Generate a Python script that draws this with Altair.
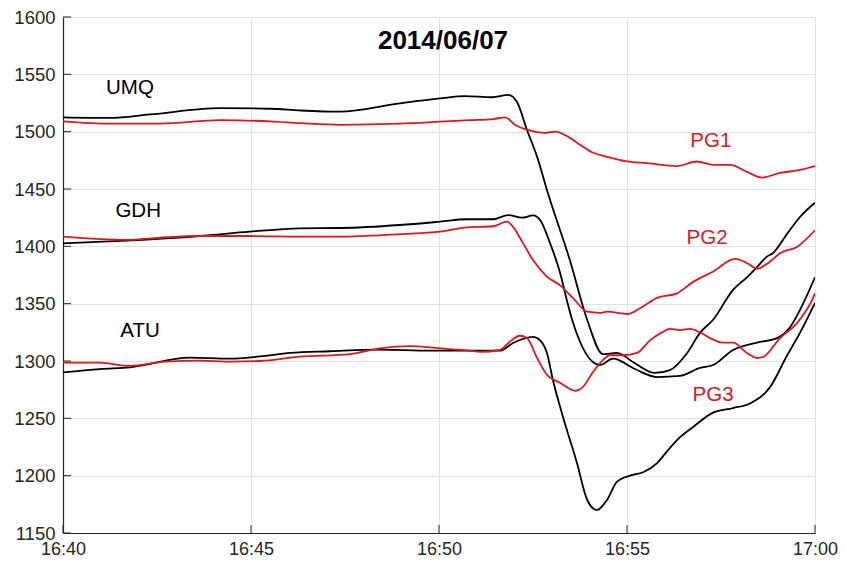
import altair as alt
import pandas as pd

# ---- data (minutes after 16:40, value) ----
x_tick_values = [0, 5, 10, 15, 20]
x_tick_labels = ["16:40", "16:45", "16:50", "16:55", "17:00"]
y_tick_values = [1150, 1200, 1250, 1300, 1350, 1400, 1450, 1500, 1550, 1600]
title_text = "2014/06/07"

umq_t = [0, 1.25, 2.31, 4.18, 5.51, 6.30, 7.37, 8.96, 10.03, 10.69, 11.41, 11.84, 12.07, 12.34, 12.61,
         12.90, 13.48, 13.94, 14.36, 14.73, 15.21, 15.74, 16.14, 16.60, 16.94, 17.29, 17.82, 18.19,
         18.46, 18.72, 18.88, 19.26, 19.60, 20.0]
umq_v = [1512.5, 1512, 1515, 1520.6, 1520, 1518.5, 1517.4, 1524.7, 1529, 1531, 1530, 1532, 1526, 1501.5, 1478,
         1446, 1388, 1336, 1306, 1307, 1298, 1289.6, 1292, 1307, 1324.5, 1336, 1362, 1373,
         1382, 1391, 1394, 1411, 1425.6, 1438]

gdh_t = [0, 1.70, 3.64, 4.97, 6.30, 7.37, 8.96, 10.03, 10.74, 11.44, 11.84, 12.21, 12.50, 12.69, 12.95,
         13.22, 13.40, 13.54, 14.28, 14.63, 15.21, 15.80, 16.41, 16.94, 17.29, 17.82, 18.54, 18.99,
         19.34, 19.60, 20.0]
gdh_v = [1402.6, 1405, 1409, 1412.8, 1415.7, 1416, 1418.6, 1421.5, 1423.6, 1423.6, 1427.3, 1425, 1427, 1423, 1403,
         1377, 1353, 1336, 1296.5, 1302, 1293, 1286, 1287, 1294, 1296.5, 1309.6, 1316.6, 1320,
         1329.7, 1344.5, 1373]

atu_t = [0, 0.98, 1.78, 3.38, 4.44, 5.24, 6.04, 7.10, 8.43, 9.76, 11.09, 11.62, 11.97, 12.50, 12.69, 12.87,
         13.03, 13.30, 13.67, 13.94, 14.20, 14.47, 14.73, 15.08, 15.43, 15.80, 16.06, 16.33, 16.76,
         17.29, 17.82, 18.27, 18.80, 19.26, 19.60, 20.0]
atu_v = [1290, 1293, 1294.5, 1303, 1302, 1304, 1307, 1308.5, 1310, 1309, 1309, 1309, 1315.7, 1321, 1318, 1307,
         1283.5, 1251, 1211, 1179, 1170, 1179, 1194.5, 1200, 1203, 1211, 1221, 1231, 1242.5,
         1255, 1259, 1263, 1277, 1305, 1324.5, 1350.6]

pg1_t = [0, 1.25, 2.58, 4.18, 5.51, 6.30, 7.37, 8.96, 10.03, 10.82, 11.44, 11.76, 12.02, 12.42, 12.82, 13.09,
         13.48, 13.75, 14.07, 14.47, 15.0, 15.53, 16.33, 16.86, 17.29, 17.74, 18.19, 18.59, 19.07,
         19.60, 20.0]
pg1_v = [1509, 1507, 1507, 1510, 1509, 1507.5, 1506, 1507, 1508.7, 1510, 1511, 1512.5, 1506, 1501, 1499, 1500,
         1494.6, 1488.6, 1482, 1478, 1474, 1472.5, 1470, 1474, 1471, 1471, 1465, 1460, 1464,
         1466.6, 1470]

pg2_t = [0, 1.70, 2.58, 3.64, 4.97, 6.30, 7.37, 8.96, 10.03, 10.74, 11.44, 11.81, 11.97, 12.23, 12.50, 12.87,
         13.22, 13.56, 13.94, 14.28, 14.47, 15.03, 15.35, 15.80, 16.33, 16.76, 17.29, 17.87, 18.19,
         18.46, 18.80, 19.07, 19.52, 20.0]
pg2_v = [1408.5, 1405.6, 1407.5, 1409, 1409, 1408.5, 1408.5, 1410.7, 1412.8, 1416.6, 1417.5, 1421.5, 1417, 1403, 1388, 1373.6,
         1366, 1355, 1343, 1342, 1343, 1341, 1346, 1355, 1359, 1369, 1378, 1389, 1385.5,
         1380.5, 1386.6, 1394, 1399.5, 1414]

pg3_t = [0, 0.98, 1.78, 2.71, 3.64, 4.44, 5.24, 6.30, 7.63, 8.43, 9.23, 10.03, 10.82, 11.09, 11.62, 11.89,
         12.15, 12.34, 12.61, 12.87, 13.22, 13.62, 13.83, 14.10, 14.28, 14.55, 14.89, 15.27, 15.61,
         15.93, 16.14, 16.41, 16.68, 16.94, 17.21, 17.55, 17.82, 18.19, 18.46, 18.62, 19.07, 19.52,
         19.92, 20.0]
pg3_v = [1298.6, 1298.6, 1295.7, 1299.5, 1300.4, 1299.5, 1300, 1303.8, 1306, 1311, 1313, 1311, 1309, 1308, 1309.6, 1317,
         1322, 1320, 1302.6, 1288, 1281, 1274, 1277.5, 1290.7, 1298, 1305, 1305, 1307, 1318,
         1325, 1328, 1327, 1328, 1325, 1320, 1316, 1316, 1307, 1302.6, 1303.5, 1320, 1333,
         1353, 1359]

series_names = ["UMQ", "GDH", "ATU", "PG1", "PG2", "PG3"]
series_colors = ["#000000", "#000000", "#000000", "#e0161f", "#e0161f", "#e0161f"]

label_t = [1.78, 2.0, 2.05, 17.23, 17.13, 17.29]
label_v = [1538, 1431, 1326, 1492, 1407, 1270]

# ---- build tables ----
rows = []
for name, ts, vs in zip(series_names,
                        [umq_t, gdh_t, atu_t, pg1_t, pg2_t, pg3_t],
                        [umq_v, gdh_v, atu_v, pg1_v, pg2_v, pg3_v]):
    for t, v in zip(ts, vs):
        rows.append({"series": name, "t": t, "v": v})
df = pd.DataFrame(rows)
labels_df = pd.DataFrame({"series": series_names, "t": label_t, "v": label_v})

FONT = "Liberation Sans"
W, H = 752, 516

xscale = alt.Scale(domain=[0, 20], nice=False, zero=False)
yscale = alt.Scale(domain=[1150, 1600], nice=False, zero=False)
cscale = alt.Scale(domain=series_names, range=series_colors)

label_expr = "[" + ",".join("'%s'" % s for s in x_tick_labels) + "][round(datum.value/5)]"

xaxis = alt.Axis(values=x_tick_values, labelExpr=label_expr, ticks=False, grid=True, title=None,
                 labelFontSize=18, labelPadding=7, labelFlush=False)
yaxis = alt.Axis(values=y_tick_values, format="d", ticks=False, grid=True, title=None,
                 labelFontSize=18.5, labelPadding=8)

lines = alt.Chart(df).mark_line(strokeWidth=1.8, interpolate="monotone", clip=True).encode(
    x=alt.X("t:Q", scale=xscale, axis=xaxis),
    y=alt.Y("v:Q", scale=yscale, axis=yaxis),
    color=alt.Color("series:N", scale=cscale, legend=None),
)

texts = alt.Chart(labels_df).mark_text(fontSize=20.5, font=FONT).encode(
    x=alt.X("t:Q", scale=xscale, axis=xaxis),
    y=alt.Y("v:Q", scale=yscale, axis=yaxis),
    text="series:N",
    color=alt.Color("series:N", scale=cscale, legend=None),
)

title = alt.Chart(pd.DataFrame({"title": [title_text]})).mark_text(
    fontSize=26, fontWeight="bold", font=FONT, color="#000000", baseline="middle"
).encode(text="title:N", x=alt.value(W / 2 + 4), y=alt.value(24))

xticks = alt.Chart(pd.DataFrame({"t": x_tick_values})).mark_rule(color="#262626", strokeWidth=1).encode(
    x=alt.X("t:Q", scale=xscale, axis=xaxis), y=alt.value(H), y2=alt.value(H - 8))
yticks = alt.Chart(pd.DataFrame({"v": y_tick_values})).mark_rule(color="#262626", strokeWidth=1).encode(
    y=alt.Y("v:Q", scale=yscale, axis=yaxis), x=alt.value(0), x2=alt.value(8))

chart = alt.layer(xticks, yticks, lines, texts, title).properties(
    width=W, height=H,
    padding={"left": 63, "top": 17, "right": 31, "bottom": 31},
    autosize=alt.AutoSizeParams(type="none"),
    background="white",
).configure_view(stroke=None).configure_axis(
    domainColor="#262626", domainWidth=1.2, gridColor="#e2e2e2", gridWidth=1,
    labelFont=FONT, labelColor="#262626",
)

chart.save("out.html", embed_options={"renderer": "svg", "actions": False})
